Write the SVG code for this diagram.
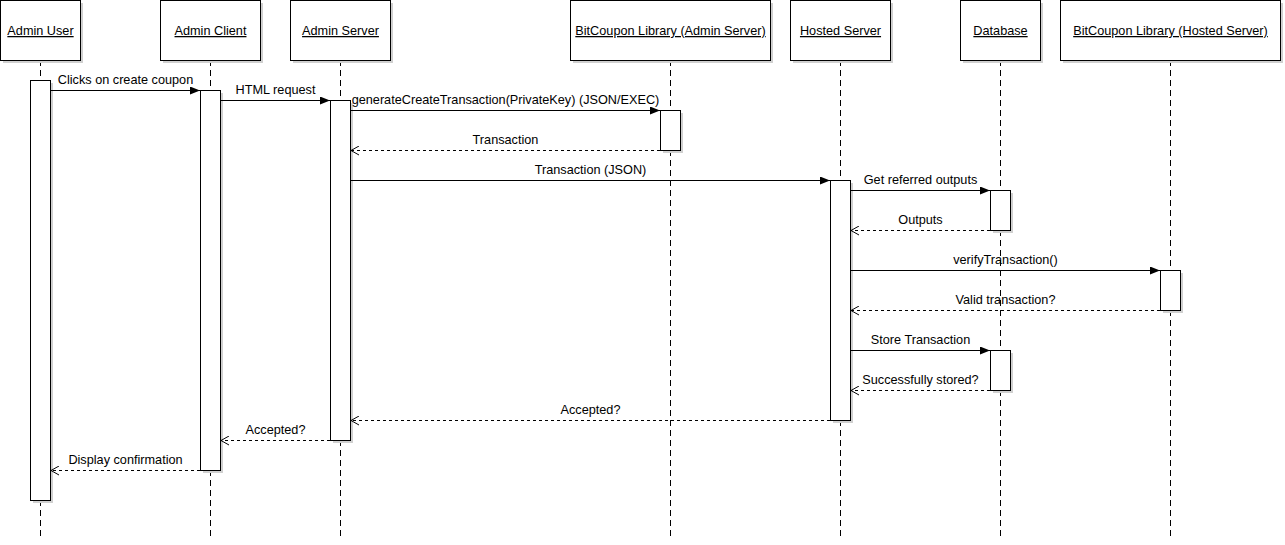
<svg xmlns="http://www.w3.org/2000/svg" width="1285" height="545" viewBox="0 0 1285 545">
  <style>
    text { font-family: "Liberation Sans", Arial, sans-serif; font-size: 12.7px; fill: #000; }
    .head { text-decoration: underline; text-anchor: middle; }
    .lbl { text-anchor: middle; }
    .box { fill: #fff; stroke: #000; stroke-width: 1; }
    .shadow { fill: #d0d0d0; }
    .life { stroke: #000; stroke-width: 1; stroke-dasharray: 6 4; fill: none; }
    .call { stroke: #000; stroke-width: 1; fill: none; marker-end: url(#filled); }
    .ret { stroke: #000; stroke-width: 1; stroke-dasharray: 3 3; fill: none; marker-end: url(#open); }
  </style>
  <defs>
    <marker id="filled" viewBox="0 0 10 8" refX="10" refY="4" markerWidth="10" markerHeight="8" markerUnits="userSpaceOnUse" orient="auto">
      <path d="M0,0 L10,4 L0,8 Z" fill="#000"/>
    </marker>
    <marker id="open" viewBox="0 0 10 10" refX="9" refY="5" markerWidth="10" markerHeight="10" markerUnits="userSpaceOnUse" orient="auto">
      <path d="M1,0.5 L9,5 L1,9.5" fill="none" stroke="#000" stroke-width="1"/>
    </marker>
  </defs>
  <rect width="1285" height="545" fill="#fff"/>

  <!-- lifelines -->
  <g id="lifelines">
    <line class="life" x1="40.5" y1="60" x2="40.5" y2="536"/>
    <line class="life" x1="210.5" y1="60" x2="210.5" y2="536"/>
    <line class="life" x1="340.5" y1="60" x2="340.5" y2="536"/>
    <line class="life" x1="670.5" y1="60" x2="670.5" y2="536"/>
    <line class="life" x1="840.5" y1="60" x2="840.5" y2="536"/>
    <line class="life" x1="1000.5" y1="60" x2="1000.5" y2="536"/>
    <line class="life" x1="1170.5" y1="60" x2="1170.5" y2="536"/>
  </g>

  <!-- participant heads -->
  <g id="admin-user">
    <rect class="shadow" x="3" y="3" width="80" height="60"/>
    <rect class="box" x="0.5" y="0.5" width="80" height="60"/>
    <text class="head" x="40.5" y="35">Admin User</text>
  </g>
  <g id="admin-client">
    <rect class="shadow" x="163" y="3" width="100" height="60"/>
    <rect class="box" x="160.5" y="0.5" width="100" height="60"/>
    <text class="head" x="210.5" y="35">Admin Client</text>
  </g>
  <g id="admin-server">
    <rect class="shadow" x="293" y="3" width="100" height="60"/>
    <rect class="box" x="290.5" y="0.5" width="100" height="60"/>
    <text class="head" x="340.5" y="35">Admin Server</text>
  </g>
  <g id="lib-admin">
    <rect class="shadow" x="573" y="3" width="200" height="60"/>
    <rect class="box" x="570.5" y="0.5" width="200" height="60"/>
    <text class="head" x="670.5" y="35">BitCoupon Library (Admin Server)</text>
  </g>
  <g id="hosted-server">
    <rect class="shadow" x="793" y="3" width="100" height="60"/>
    <rect class="box" x="790.5" y="0.5" width="100" height="60"/>
    <text class="head" x="840.5" y="35">Hosted Server</text>
  </g>
  <g id="database">
    <rect class="shadow" x="963" y="3" width="80" height="60"/>
    <rect class="box" x="960.5" y="0.5" width="80" height="60"/>
    <text class="head" x="1000.5" y="35">Database</text>
  </g>
  <g id="lib-hosted">
    <rect class="shadow" x="1063" y="3" width="220" height="60"/>
    <rect class="box" x="1060.5" y="0.5" width="220" height="60"/>
    <text class="head" x="1170.5" y="35">BitCoupon Library (Hosted Server)</text>
  </g>

  <!-- activation bars -->
  <g id="activations">
    <rect class="shadow" x="33" y="83" width="20" height="420"/>
    <rect class="box" x="30.5" y="80.5" width="20" height="420"/>
    <rect class="shadow" x="203" y="93" width="20" height="380"/>
    <rect class="box" x="200.5" y="90.5" width="20" height="380"/>
    <rect class="shadow" x="333" y="103" width="20" height="340"/>
    <rect class="box" x="330.5" y="100.5" width="20" height="340"/>
    <rect class="shadow" x="663" y="113" width="20" height="40"/>
    <rect class="box" x="660.5" y="110.5" width="20" height="40"/>
    <rect class="shadow" x="833" y="183" width="20" height="240"/>
    <rect class="box" x="830.5" y="180.5" width="20" height="240"/>
    <rect class="shadow" x="993" y="193" width="20" height="40"/>
    <rect class="box" x="990.5" y="190.5" width="20" height="40"/>
    <rect class="shadow" x="1163" y="273" width="20" height="40"/>
    <rect class="box" x="1160.5" y="270.5" width="20" height="40"/>
    <rect class="shadow" x="993" y="353" width="20" height="40"/>
    <rect class="box" x="990.5" y="350.5" width="20" height="40"/>
  </g>

  <!-- messages -->
  <g id="connectors">
    <line class="call" x1="51" y1="90.5" x2="200" y2="90.5"/>
    <text class="lbl" x="125.5" y="84">Clicks on create coupon</text>

    <line class="call" x1="221" y1="100.5" x2="330" y2="100.5"/>
    <text class="lbl" x="275.5" y="94">HTML request</text>

    <line class="call" x1="351" y1="110.5" x2="660" y2="110.5"/>
    <text class="lbl" x="505.5" y="104">generateCreateTransaction(PrivateKey) (JSON/EXEC)</text>

    <line class="ret" x1="660" y1="150.5" x2="351" y2="150.5"/>
    <text class="lbl" x="505.5" y="144">Transaction</text>

    <line class="call" x1="351" y1="180.5" x2="830" y2="180.5"/>
    <text class="lbl" x="590.5" y="174">Transaction (JSON)</text>

    <line class="call" x1="851" y1="190.5" x2="990" y2="190.5"/>
    <text class="lbl" x="920.5" y="184">Get referred outputs</text>

    <line class="ret" x1="990" y1="230.5" x2="851" y2="230.5"/>
    <text class="lbl" x="920.5" y="224">Outputs</text>

    <line class="call" x1="851" y1="270.5" x2="1160" y2="270.5"/>
    <text class="lbl" x="1005.5" y="264">verifyTransaction()</text>

    <line class="ret" x1="1160" y1="310.5" x2="851" y2="310.5"/>
    <text class="lbl" x="1005.5" y="304">Valid transaction?</text>

    <line class="call" x1="851" y1="350.5" x2="990" y2="350.5"/>
    <text class="lbl" x="920.5" y="344">Store Transaction</text>

    <line class="ret" x1="990" y1="390.5" x2="851" y2="390.5"/>
    <text class="lbl" x="920.5" y="384">Successfully stored?</text>

    <line class="ret" x1="830" y1="420.5" x2="351" y2="420.5"/>
    <text class="lbl" x="590.5" y="414">Accepted?</text>

    <line class="ret" x1="330" y1="440.5" x2="221" y2="440.5"/>
    <text class="lbl" x="275.5" y="434">Accepted?</text>

    <line class="ret" x1="200" y1="470.5" x2="51" y2="470.5"/>
    <text class="lbl" x="125.5" y="464">Display confirmation</text>
  </g>
</svg>
